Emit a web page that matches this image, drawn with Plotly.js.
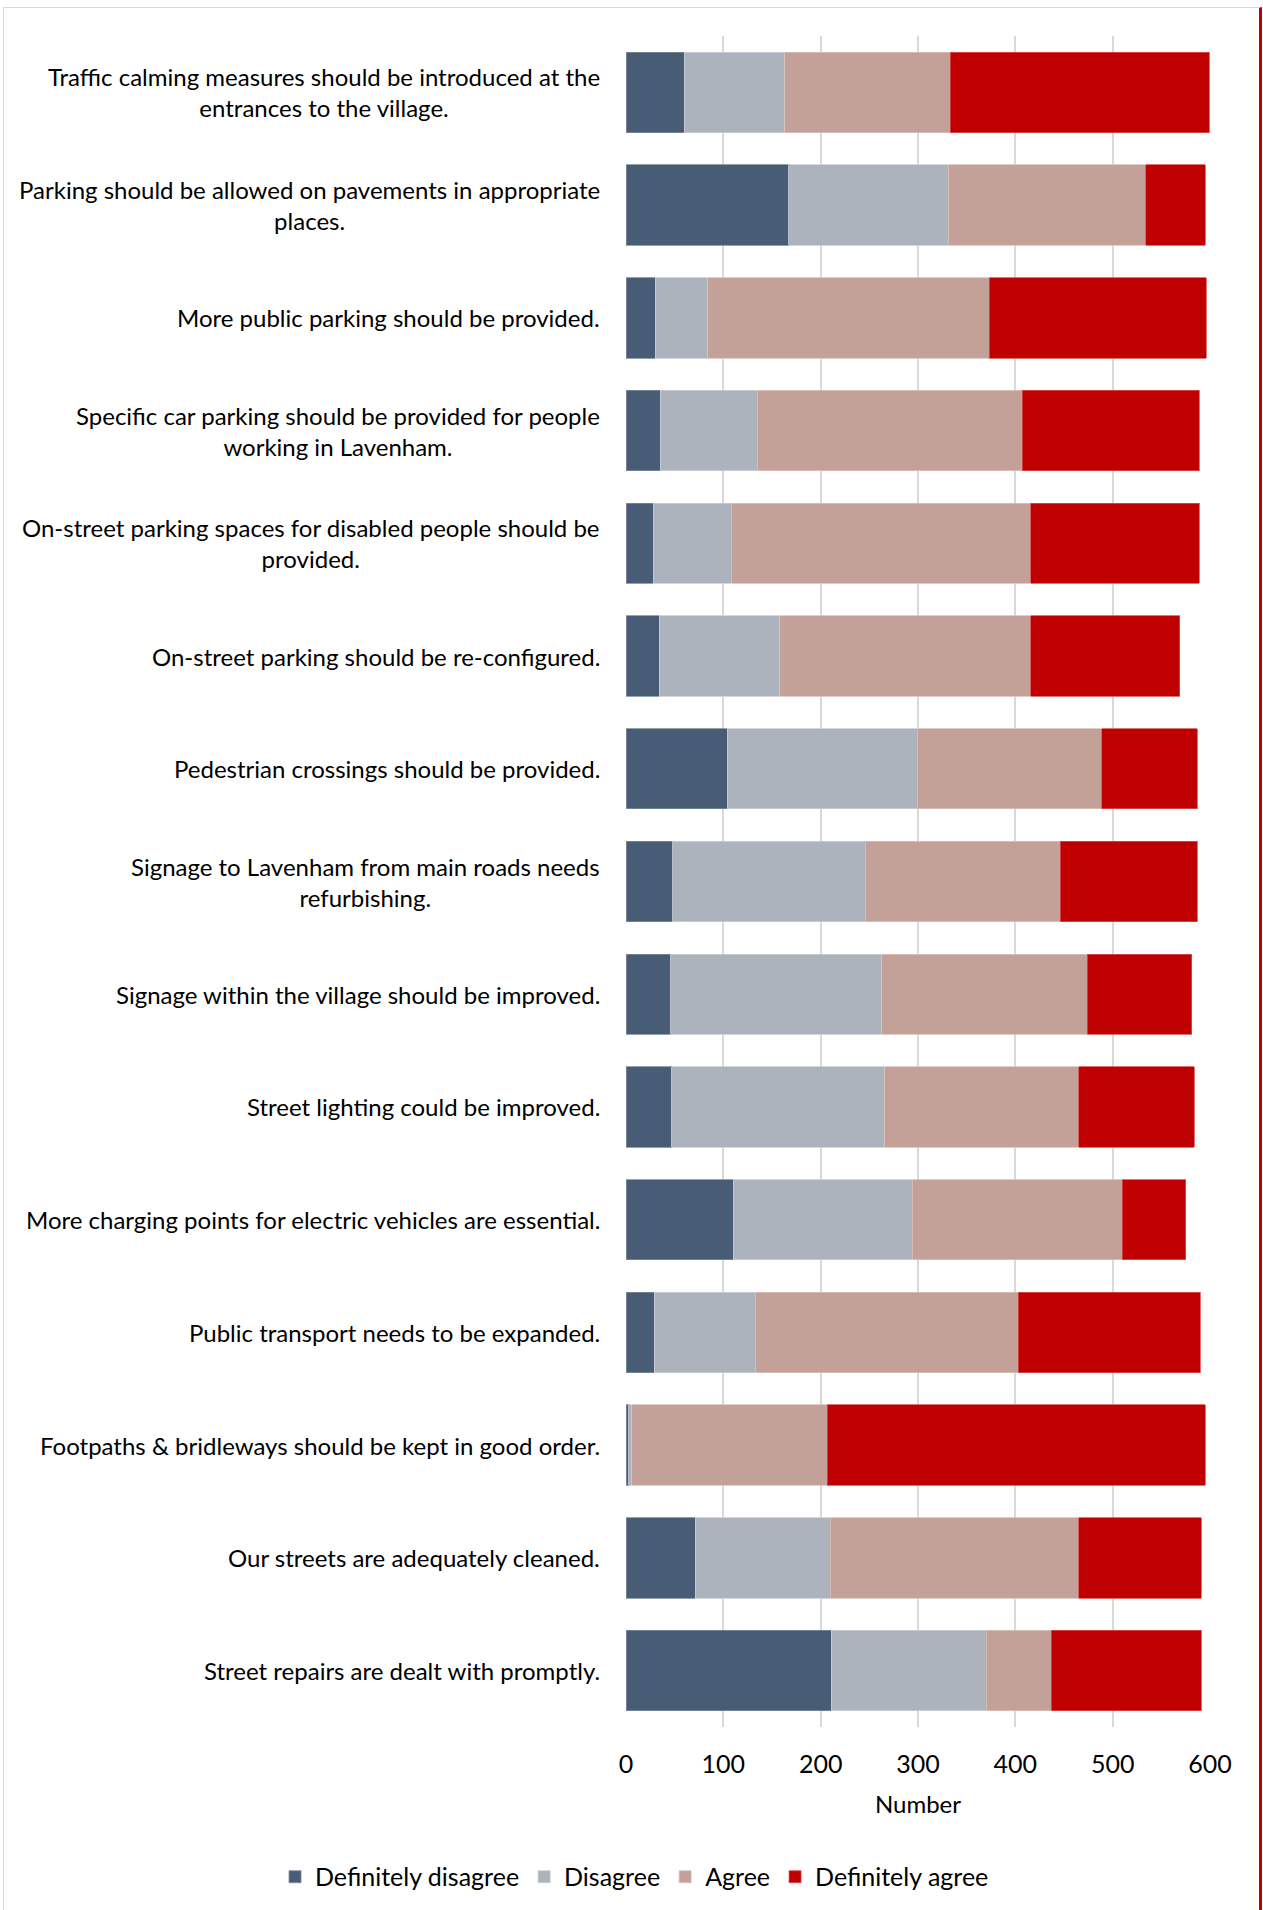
<!DOCTYPE html>
<html>
<head>
<meta charset="utf-8">
<script src="https://cdn.plot.ly/plotly-3.0.1.min.js"></script>
<style>
  html, body { margin: 0; padding: 0; background: #ffffff; }
  #wrap { position: relative; width: 1263px; height: 1910px; overflow: hidden; }
  #chart { position: absolute; left: 0; top: 0; width: 1263px; height: 1910px; }
  #frame { position: absolute; left: 3px; top: 7px; width: 1259px; height: 1910px;
           border-left: 1px solid #d9d9d9; border-top: 1px solid #d9d9d9;
           border-right: 3px solid #c00000; pointer-events: none; box-sizing: border-box; }
</style>
</head>
<body>
<div id="wrap">
  <div id="chart"></div>
  <div id="frame"></div>
</div>
<script>
const categories = [
  "Traffic calming measures should be introduced at the<br>entrances to the village.",
  "Parking should be allowed on pavements in appropriate<br>places.",
  "More public parking should be provided.",
  "Specific car parking should be provided for people<br>working in Lavenham.",
  "On-street parking spaces for disabled people should be<br>provided.",
  "On-street parking should be re-configured.",
  "Pedestrian crossings should be provided.",
  "Signage to Lavenham from main roads needs<br>refurbishing.",
  "Signage within the village should be improved.",
  "Street lighting could be improved.",
  "More charging points for electric vehicles are essential.",
  "Public transport needs to be expanded.",
  "Footpaths & bridleways should be kept in good order.",
  "Our streets are adequately cleaned.",
  "Street repairs are dealt with promptly."
];
const definitelyDisagree = [60, 167, 30, 35, 28, 34, 104, 48, 46, 47, 110, 29, 3, 71, 211];
const disagree           = [103, 164, 54, 100, 80, 124, 195, 198, 217, 219, 184, 104, 3, 139, 159];
const agree              = [170, 203, 289, 272, 308, 258, 190, 200, 211, 199, 216, 270, 201, 255, 67];
const definitelyAgree    = [266, 61, 223, 182, 173, 153, 98, 141, 107, 119, 65, 187, 388, 126, 154];
const seriesNames = ["Definitely disagree", "Disagree", "Agree", "Definitely agree"];
const xTickVals = [0, 100, 200, 300, 400, 500, 600];
const xTitle = "Number";

const FONT = "Lato, 'Liberation Sans Narrow', sans-serif";
const colors = ["#485D75", "#ACB3BC", "#C3A098", "#C00000"];
const lineColors = ["#7d8b9b", "#c9ced4", "#dcc3bd", "#d85050"];
const seriesData = [definitelyDisagree, disagree, agree, definitelyAgree];

const traces = seriesData.map((vals, i) => ({
  type: "bar",
  orientation: "h",
  name: seriesNames[i],
  x: vals,
  y: categories,
  marker: { color: colors[i], line: { color: lineColors[i], width: 0.8 } },
  hoverinfo: "x+name"
}));

const annotations = categories.map(c => ({
  text: c,
  xref: "paper",
  yref: "y",
  x: 0,
  y: c,
  xanchor: "right",
  yanchor: "middle",
  xshift: -24,
  align: "center",
  showarrow: false,
  font: { family: FONT, size: 24, color: "#000000" }
}));

const layout = {
  width: 1263,
  height: 1910,
  paper_bgcolor: "rgba(0,0,0,0)",
  plot_bgcolor: "rgba(0,0,0,0)",
  barmode: "stack",
  bargap: 0.287,
  margin: { l: 626, r: 53, t: 36, b: 183, autoexpand: false },
  font: { family: FONT, size: 24, color: "#000000" },
  xaxis: {
    range: [0, 600],
    tickvals: xTickVals,
    showgrid: true,
    gridcolor: "#d9d9d9",
    gridwidth: 1.5,
    zeroline: false,
    showline: false,
    ticks: "outside",
    ticklen: 15,
    tickcolor: "rgba(0,0,0,0)",
    tickfont: { family: FONT, size: 25, color: "#000000" },
    title: { text: xTitle, font: { family: FONT, size: 24, color: "#000000" }, standoff: 19 },
    fixedrange: true,
    automargin: false
  },
  yaxis: {
    type: "category",
    autorange: "reversed",
    showticklabels: false,
    showgrid: false,
    zeroline: false,
    showline: false,
    ticks: "",
    fixedrange: true,
    automargin: false
  },
  legend: {
    orientation: "h",
    x: -0.601,
    xanchor: "left",
    y: -0.0887,
    yanchor: "middle",
    traceorder: "normal",
    font: { family: FONT, size: 25, color: "#000000" },
    itemclick: false,
    itemdoubleclick: false
  },
  annotations: annotations,
  showlegend: true
};

Plotly.newPlot("chart", traces, layout, { displayModeBar: false });
</script>
</body>
</html>
